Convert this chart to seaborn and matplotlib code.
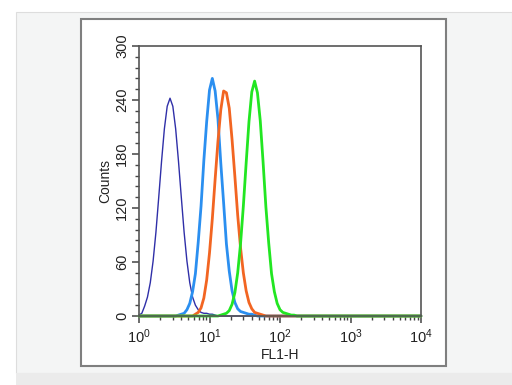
import numpy as np
import pandas as pd
import matplotlib
matplotlib.use("Agg")
import matplotlib.pyplot as plt
import seaborn as sns
from matplotlib.patches import Rectangle
from matplotlib.ticker import MultipleLocator, LogLocator, NullFormatter

# ---- data ----
# FL1-H channel axis, in decades (log10), 0.04 decade per bin
log_fl1 = np.round(np.arange(101) * 0.04, 2)

navy_start = 0.00
navy_counts = [1, 3, 11, 21, 37, 61, 93, 132, 172, 208, 233, 242, 233, 208,
               172, 132, 93, 61, 37, 21, 12, 7, 4, 3, 3, 2, 2, 1, 0]

blue_start = 0.56
blue_counts = [1, 2, 3, 7, 14, 27, 47, 82, 122, 173, 216, 251, 264, 250, 219,
               170, 126, 80, 50, 28, 15, 8, 5, 4, 3, 2, 2, 1, 0]

orange_start = 0.80
orange_counts = [2, 4, 9, 20, 40, 70, 108, 152, 194, 229, 250, 248, 231, 196,
                 155, 112, 76, 48, 28, 15, 8, 4, 3, 2, 1, 0]

green_start = 1.16
green_counts = [1, 2, 3, 6, 13, 26, 48, 80, 122, 170, 216, 249, 261, 248, 217,
                171, 121, 81, 47, 27, 14, 7, 4, 3, 2, 1, 1, 0]

series_names = ["navy", "blue", "orange", "green"]
series_colors = ["#2f2fa8", "#2b8ff0", "#f26522", "#22e622"]
series_widths = [1.0, 2.0, 2.0, 2.0]

y_ticks = [0, 60, 120, 180, 240, 300]
x_label = "FL1-H"
y_label = "Counts"


def full_series(start, counts):
    y = np.zeros(len(log_fl1))
    i0 = int(round(start / 0.04))
    y[i0:i0 + len(counts)] = counts
    return y


frames = []
for name, start, counts in [("navy", navy_start, navy_counts),
                            ("blue", blue_start, blue_counts),
                            ("orange", orange_start, orange_counts),
                            ("green", green_start, green_counts)]:
    frames.append(pd.DataFrame({"fl1": 10 ** log_fl1,
                                "count": full_series(start, counts),
                                "series": name}))
df = pd.concat(frames, ignore_index=True)

# ---- figure ----
sns.set_style("white")
plt.rcParams["font.family"] = ["Liberation Sans", "DejaVu Sans"]
plt.rcParams["mathtext.fontset"] = "custom"
plt.rcParams["mathtext.rm"] = "Liberation Sans"
plt.rcParams["mathtext.it"] = "Liberation Sans"
plt.rcParams["mathtext.default"] = "regular"

W, H = 512, 385
fig = plt.figure(figsize=(W / 100, H / 100), dpi=100, facecolor="white")


def px_rect(x0, y0, x1, y1, **kw):
    return Rectangle((x0 / W, 1 - y1 / H), (x1 - x0) / W, (y1 - y0) / H,
                     transform=fig.transFigure, figure=fig, **kw)


# outer page panels
fig.patches.append(px_rect(16, 12, 512, 373, facecolor="#f4f5f5",
                           edgecolor="#dddddd", linewidth=0.8, zorder=0))
fig.patches.append(px_rect(16, 373, 512, 385, facecolor="#ebebeb",
                           edgecolor="none", zorder=0))
# image frame
fig.patches.append(px_rect(81, 19, 446, 366, facecolor="white",
                           edgecolor="#7f7f7f", linewidth=1.5, zorder=1))

ax = fig.add_axes([139 / W, 1 - 316 / H, 282 / W, 270 / H])
ax.set_zorder(2)
ax.set_facecolor("white")

for name, color, lw in zip(series_names, series_colors, series_widths):
    sub = df[df["series"] == name]
    sns.lineplot(data=sub, x="fl1", y="count", ax=ax, color=color,
                 linewidth=lw, estimator=None, legend=False, clip_on=False)

ax.set_xscale("log")
ax.set_xlim(1, 1e4)
ax.set_ylim(0, 300)
ax.set_yticks(y_ticks)
ax.yaxis.set_minor_locator(MultipleLocator(12))
ax.xaxis.set_major_locator(LogLocator(base=10, numticks=10))
ax.xaxis.set_minor_locator(LogLocator(base=10, subs=np.arange(2, 10), numticks=50))
ax.xaxis.set_minor_formatter(NullFormatter())

for s in ax.spines.values():
    s.set_color("#555555")
    s.set_linewidth(1.2)
    s.set_visible(True)

ax.tick_params(axis="both", which="both", bottom=True, left=True,
               top=False, right=False)
ax.tick_params(axis="both", which="major", direction="out", length=5,
               width=1.1, color="#444444", labelcolor="#222222", labelsize=10.5)
ax.tick_params(axis="both", which="minor", direction="out", length=3,
               width=1.0, color="#444444")
ax.tick_params(axis="y", which="major", pad=2)
for lab in ax.get_yticklabels():
    lab.set_rotation(90)
    lab.set_va("center")

ax.set_xlabel(x_label, fontsize=10, color="#222222", labelpad=1)
ax.set_ylabel(y_label, fontsize=10, color="#222222", labelpad=2)

fig.savefig("out.png", dpi=100, facecolor=fig.get_facecolor())
